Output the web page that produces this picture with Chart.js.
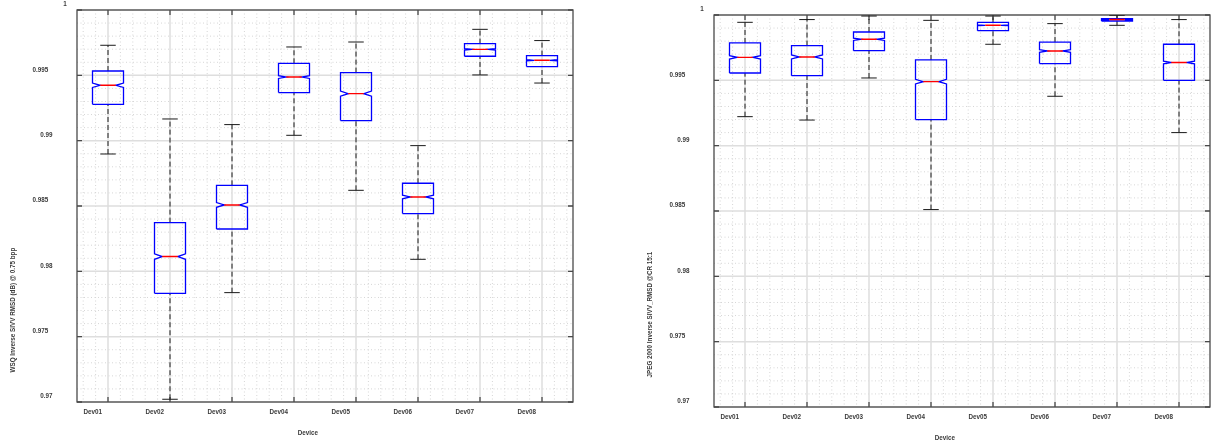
<!DOCTYPE html>
<html>
<head>
<meta charset="utf-8">
<script src="https://cdn.jsdelivr.net/npm/chart.js@4/dist/chart.umd.min.js"></script>
<style>
  html, body { margin: 0; padding: 0; background: #ffffff; }
  #wrap { position: relative; width: 1217px; height: 445px; }
  canvas { position: absolute; left: 0; top: 0; }
</style>
</head>
<body>
<div id="wrap">
  <canvas id="c1" width="1217" height="445"></canvas>
  <canvas id="c2" width="1217" height="445"></canvas>
</div>
<script>
// ---------- data ----------
const categories = ['Dev01', 'Dev02', 'Dev03', 'Dev04', 'Dev05', 'Dev06', 'Dev07', 'Dev08'];
const yTickLabels = ['0.97', '0.975', '0.98', '0.985', '0.99', '0.995', '1'];

// WSQ chart (left)
const wsqLow   = [0.98898, 0.97021, 0.97837, 0.99041, 0.98620, 0.98092, 0.99503, 0.99441];
const wsqQ1    = [0.99278, 0.97832, 0.98324, 0.99368, 0.99154, 0.98442, 0.99646, 0.99567];
const wsqMed   = [0.99424, 0.98113, 0.98508, 0.99487, 0.99360, 0.98569, 0.99699, 0.99615];
const wsqQ3    = [0.99533, 0.98373, 0.98658, 0.99592, 0.99521, 0.98674, 0.99743, 0.99651];
const wsqHigh  = [0.99730, 0.99166, 0.99123, 0.99717, 0.99755, 0.98962, 0.99852, 0.99766];
const wsqNotch = [0.00017, 0.00021, 0.00018, 0.00011, 0.00019, 0.00014, 0.00006, 0.00005];

// JPEG 2000 chart (right)
const jp2Low   = [0.99222, 0.99196, 0.99518, 0.98511, 0.99776, 0.99378, 0.99921, 0.99100];
const jp2Q1    = [0.99556, 0.99536, 0.99727, 0.99200, 0.99880, 0.99628, 0.99954, 0.99500];
const jp2Med   = [0.99676, 0.99679, 0.99814, 0.99490, 0.99921, 0.99725, 0.99965, 0.99636];
const jp2Q3    = [0.99786, 0.99766, 0.99870, 0.99656, 0.99944, 0.99793, 0.99972, 0.99776];
const jp2High  = [0.99944, 0.99965, 0.99992, 0.99959, 0.99992, 0.99934, 0.99998, 0.99965];
const jp2Notch = [0.00013, 0.00015, 0.00009, 0.00018, 0.00003, 0.00010, 0.00002, 0.00010];

const wsqTitle = 'WSQ Inverse SIVV RMSD (dB) @ 0.75 bpp';
const jp2Title = 'JPEG 2000 Inverse SIVV_RMSD @CR 15:1';
const xTitle = 'Device';

// ---------- helpers ----------
const TEXT_FONT = 'bold 6.3px "Liberation Sans", Arial, sans-serif';
const TEXT_COLOR = '#3a3a3a';
const AXIS_COLOR = '#4a4a4a';

function boxDatasets(low, q1, med, q3, high, notch) {
  const W = 0.25, C = 0.125;
  const outline = [], medians = [], whisk = [], caps = [];
  for (let i = 0; i < med.length; i++) {
    const x = i + 1;
    const nlo = Math.max(med[i] - notch[i], q1[i]);
    const nhi = Math.min(med[i] + notch[i], q3[i]);
    outline.push(
      {x: x - W, y: q1[i]}, {x: x + W, y: q1[i]}, {x: x + W, y: nlo},
      {x: x + W / 2, y: med[i]}, {x: x + W, y: nhi}, {x: x + W, y: q3[i]},
      {x: x - W, y: q3[i]}, {x: x - W, y: nhi}, {x: x - W / 2, y: med[i]},
      {x: x - W, y: nlo}, {x: x - W, y: q1[i]}, {x: x, y: null});
    medians.push({x: x - W / 2, y: med[i]}, {x: x + W / 2, y: med[i]}, {x: x, y: null});
    whisk.push({x: x, y: q3[i]}, {x: x, y: high[i]}, {x: x, y: null},
               {x: x, y: low[i]}, {x: x, y: q1[i]}, {x: x, y: null});
    caps.push({x: x - C, y: high[i]}, {x: x + C, y: high[i]}, {x: x, y: null},
              {x: x - C, y: low[i]}, {x: x + C, y: low[i]}, {x: x, y: null});
  }
  const common = {showLine: true, spanGaps: false, pointRadius: 0, borderJoinStyle: 'miter', borderCapStyle: 'butt'};
  return [
    Object.assign({label: 'median', data: medians, borderColor: '#ff0000', borderWidth: 1.4, order: 0}, common),
    Object.assign({label: 'box', data: outline, borderColor: '#0000ff', borderWidth: 1.3, order: 1}, common),
    Object.assign({label: 'caps', data: caps, borderColor: '#1a1a1a', borderWidth: 1, order: 2}, common),
    Object.assign({label: 'whiskers', data: whisk, borderColor: '#1a1a1a', borderWidth: 1, borderDash: [5, 3], order: 3}, common)
  ];
}

const framePlugin = {
  id: 'frame',
  beforeDatasetsDraw(chart) {
    const ctx = chart.ctx, a = chart.chartArea;
    const xs = chart.scales.x, ys = chart.scales.y;
    ctx.save();
    // minor dotted grid
    ctx.strokeStyle = '#d6d6d6';
    ctx.lineWidth = 1;
    ctx.setLineDash([1, 2.5]);
    ctx.beginPath();
    for (let k = 3; k < 43; k++) {
      if (k % 5 === 0) continue;
      const px = xs.getPixelForValue(k * 0.2);
      ctx.moveTo(px, a.top); ctx.lineTo(px, a.bottom);
    }
    for (let k = 971; k < 1000; k++) {
      if (k % 5 === 0) continue;
      const py = ys.getPixelForValue(k / 1000);
      ctx.moveTo(a.left, py); ctx.lineTo(a.right, py);
    }
    ctx.stroke();
    // major solid grid
    ctx.setLineDash([]);
    ctx.strokeStyle = '#dedede';
    ctx.lineWidth = 1.5;
    ctx.beginPath();
    for (let i = 0; i < categories.length; i++) {
      const px = xs.getPixelForValue(i + 1);
      ctx.moveTo(px, a.top); ctx.lineTo(px, a.bottom);
    }
    yTickLabels.forEach(t => {
      const py = ys.getPixelForValue(parseFloat(t));
      ctx.moveTo(a.left, py); ctx.lineTo(a.right, py);
    });
    ctx.stroke();
    // border and inward ticks
    ctx.strokeStyle = AXIS_COLOR;
    ctx.lineWidth = 1.3;
    ctx.strokeRect(a.left, a.top, a.right - a.left, a.bottom - a.top);
    ctx.beginPath();
    for (let i = 0; i < categories.length; i++) {
      const px = xs.getPixelForValue(i + 1);
      ctx.moveTo(px, a.bottom); ctx.lineTo(px, a.bottom - 5);
      ctx.moveTo(px, a.top); ctx.lineTo(px, a.top + 5);
    }
    yTickLabels.forEach(t => {
      const py = ys.getPixelForValue(parseFloat(t));
      ctx.moveTo(a.left, py); ctx.lineTo(a.left + 5, py);
      ctx.moveTo(a.right, py); ctx.lineTo(a.right - 5, py);
    });
    ctx.stroke();
    ctx.restore();
  },
  afterDraw(chart, args, opts) {
    const ctx = chart.ctx, a = chart.chartArea;
    const xs = chart.scales.x, ys = chart.scales.y;
    ctx.save();
    ctx.font = TEXT_FONT;
    ctx.fillStyle = TEXT_COLOR;
    // y tick labels
    ctx.textAlign = 'left';
    ctx.textBaseline = 'middle';
    yTickLabels.forEach(t => {
      const py = ys.getPixelForValue(parseFloat(t));
      ctx.fillText(t, a.left - (6 + t.length * 7.7), py - 5.5);
    });
    // x tick labels
    ctx.textAlign = 'right';
    categories.forEach((c, i) => {
      const px = xs.getPixelForValue(i + 1);
      ctx.fillText(c, px - 6, a.bottom + 10.5);
    });
    // x title
    ctx.fillText(xTitle, (a.left + a.right) / 2 - 7, a.bottom + 31);
    // y title
    ctx.translate(a.left - 64, a.bottom - 29.5);
    ctx.rotate(-Math.PI / 2);
    ctx.textAlign = 'left';
    ctx.fillText(opts.yTitle, 0, 0);
    ctx.restore();
  }
};

function makeChart(id, datasets, pad, yTitle) {
  return new Chart(document.getElementById(id), {
    type: 'scatter',
    data: {datasets: datasets},
    options: {
      responsive: false,
      devicePixelRatio: 1,
      animation: false,
      events: [],
      layout: {padding: pad},
      scales: {
        x: {type: 'linear', min: 0.5, max: 8.5, display: false},
        y: {type: 'linear', min: 0.97, max: 1, display: false}
      },
      plugins: {
        legend: {display: false},
        tooltip: {enabled: false},
        frame: {yTitle: yTitle}
      }
    },
    plugins: [framePlugin]
  });
}

makeChart('c1', boxDatasets(wsqLow, wsqQ1, wsqMed, wsqQ3, wsqHigh, wsqNotch),
  {left: 77, top: 10, right: 1217 - 573, bottom: 445 - 402}, wsqTitle);
makeChart('c2', boxDatasets(jp2Low, jp2Q1, jp2Med, jp2Q3, jp2High, jp2Notch),
  {left: 714, top: 15, right: 1217 - 1210, bottom: 445 - 407}, jp2Title);
</script>
</body>
</html>
